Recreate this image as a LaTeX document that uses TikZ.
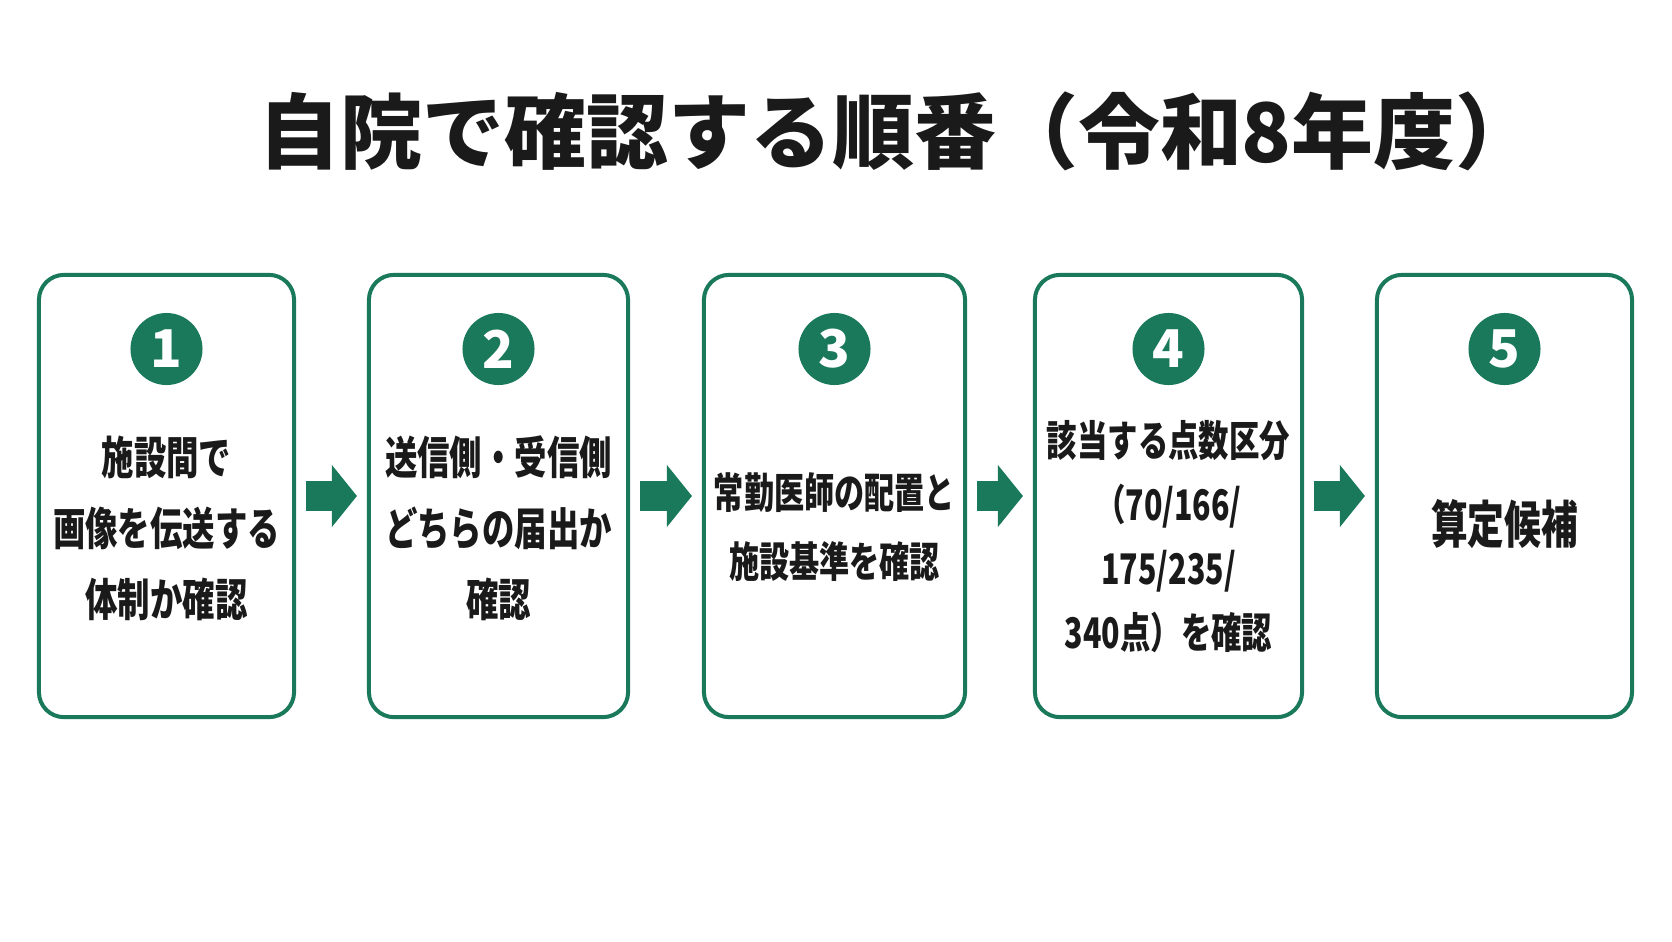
\documentclass[tikz,border=0pt]{standalone}
\usepackage{fontspec}
\setmainfont{Noto Sans CJK JP}
\newfontfamily\cardfont{Noto Sans CJK JP}[FakeStretch=0.72]
\usetikzlibrary{arrows.meta}
\definecolor{stepgreen}{HTML}{19795A}
\definecolor{titleink}{HTML}{1A1A1A}
\begin{document}
\begin{tikzpicture}[x=0.01cm, y=0.01cm,
    card/.style={draw=stepgreen, line width=0.04cm, rounded corners=0.25cm, fill=white, minimum height=4.42cm},
    numdot/.style={circle, fill=stepgreen, minimum size=0.72cm, inner sep=0pt, text=white, font=\fontsize{14.8}{18}\selectfont\bfseries},
    cardtext/.style={align=center, inner sep=0pt, text=titleink, font=\cardfont\fontsize{12.8}{20.2}\selectfont\bfseries},
    flow/.style={draw=stepgreen, line width=0.3cm, -{Triangle[length=0.25cm, width=0.62cm, line width=0pt]}, shorten <=0.1cm, shorten >=0.1cm}]
    % page size
    \useasboundingbox (0,0) rectangle (1672,941);

    % the title
    \node[anchor=west, inner sep=0pt, text=titleink, font=\fontsize{23.3}{28}\selectfont\bfseries] (title) at (258,809.5) {自院で確認する順番（令和8年度）};

    % the five cards
    \node[card, minimum width=2.55cm] (card1) at (166.5,445) {};
    \node[card, minimum width=2.59cm] (card2) at (498.5,445) {};
    \node[card, minimum width=2.61cm] (card3) at (834.5,445) {};
    \node[card, minimum width=2.67cm] (card4) at (1168.5,445) {};
    \node[card, minimum width=2.55cm] (card5) at (1504.5,445) {};

    % the step numbers
    \node[numdot] (num1) at (166.5,592) {1};
    \node[numdot] (num2) at (498.5,592) {2};
    \node[numdot] (num3) at (834.5,592) {3};
    \node[numdot] (num4) at (1168.5,592) {4};
    \node[numdot] (num5) at (1504.5,592) {5};

    % the texts in the cards
    \node[cardtext] (text1) at (166.5,413) {施設間で\\画像を伝送する\\体制か確認};
    \node[cardtext] (text2) at (498.5,413) {送信側・受信側\\どちらの届出か\\確認};
    \node[cardtext, font=\cardfont\fontsize{11.9}{19.8}\selectfont\bfseries] (text3) at (834.5,414) {常勤医師の配置と\\施設基準を確認};
    \node[cardtext, font=\cardfont\fontsize{12}{18.2}\selectfont\bfseries] (text4) at (1168.5,404) {該当する点数区分\\（70/166/\\175/235/\\340点）を確認};
    \node[cardtext, font=\cardfont\fontsize{14.5}{20}\selectfont\bfseries] (text5) at (1504.5,417) {算定候補};

    % the arrows between the cards
    \draw[flow] (card1) -- (card2);
    \draw[flow] (card2) -- (card3);
    \draw[flow] (card3) -- (card4);
    \draw[flow] (card4) -- (card5);
\end{tikzpicture}
\end{document}
